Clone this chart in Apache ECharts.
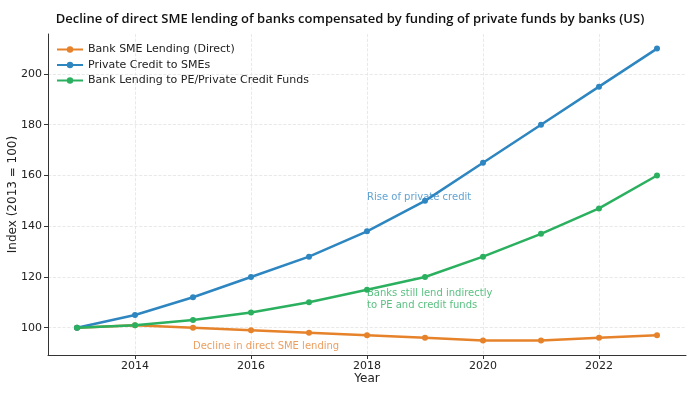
<!DOCTYPE html>
<html><head><meta charset="utf-8">
<script src="https://cdn.jsdelivr.net/npm/echarts@6/dist/echarts.min.js"></script>
<style>html,body{margin:0;padding:0;background:#fff}#c{width:700px;height:393px}</style>
</head><body><div id="c"></div>
<script>
const years = [2013,2014,2015,2016,2017,2018,2019,2020,2021,2022,2023];
const bankSME = [100,101,100,99,98,97,96,95,95,96,97];
const privateCredit = [100,105,112,120,128,138,150,165,180,195,210];
const bankPE = [100,101,103,106,110,115,120,128,137,147,160];
const xTicks = [2014,2016,2018,2020,2022];
const yTicks = [100,120,140,160,180,200];
const annotations = [
  {name:'Rise of private credit', x:2018, y:148.8, color:'#3a8cc6'},
  {name:'Banks still lend indirectly\nto PE and credit funds', x:2018, y:106.6, color:'#2fb062'},
  {name:'Decline in direct SME lending', x:2015, y:90.2, color:'#e6873a'}
];
const FONT = 'DejaVu Sans';
const chart = echarts.init(document.getElementById('c'), null, {renderer:'canvas'});
const pair = arr => years.map((y,i)=>[y,arr[i]]);
const lineSeries = (name, arr, color) => ({
  name, type:'line', data: pair(arr), symbol:'circle', symbolSize:6,
  lineStyle:{width:2.5,color}, itemStyle:{color}, z:3
});
chart.setOption({
  animation:false,
  title:{text:'Decline of direct SME lending of banks compensated by funding of private funds by banks (US)',
    left:'center', top:8, textStyle:{fontFamily:'Open Sans', fontWeight:600, fontSize:13, color:'#111'}},
  legend:{left:51, top:39, orient:'vertical', itemGap:4.5, itemWidth:26, itemHeight:8,
    textStyle:{fontFamily:FONT, fontSize:11, color:'#222'},
    data:['Bank SME Lending (Direct)','Private Credit to SMEs','Bank Lending to PE/Private Credit Funds']},
  grid:{left:48, right:14, top:34, bottom:38, outerBoundsMode:'none', containLabel:false},
  xAxis:{type:'value', min:2012.5, max:2023.5,
    name:'Year', nameLocation:'middle', nameGap:18, nameMoveOverlap:false,
    nameTextStyle:{fontFamily:FONT, fontSize:12, color:'#222'},
    axisLine:{show:true, lineStyle:{color:'#333', width:1}},
    axisTick:{show:true, customValues:xTicks, length:4, lineStyle:{color:'#333'}},
    axisLabel:{customValues:xTicks, formatter:v=>String(v), fontFamily:FONT, fontSize:11, color:'#222', margin:6},
    splitLine:{show:true, lineStyle:{type:'dashed', color:'#e3e3e3', width:0.8}}},
  yAxis:{type:'value', min:89.25, max:215.75,
    name:'Index (2013 = 100)', nameLocation:'middle', nameGap:29, nameMoveOverlap:false,
    nameTextStyle:{fontFamily:FONT, fontSize:12, color:'#222'},
    axisLine:{show:true, lineStyle:{color:'#333', width:1}},
    axisTick:{show:true, customValues:yTicks, length:4, lineStyle:{color:'#333'}},
    axisLabel:{customValues:yTicks, formatter:v=>String(v), fontFamily:FONT, fontSize:11, color:'#222', margin:6},
    splitLine:{show:true, lineStyle:{type:'dashed', color:'#e3e3e3', width:0.8}}},
  series:[
    lineSeries('Bank SME Lending (Direct)', bankSME, '#e6822a'),
    lineSeries('Private Credit to SMEs', privateCredit, '#2e86c1'),
    lineSeries('Bank Lending to PE/Private Credit Funds', bankPE, '#2bb05f'),
    {type:'scatter', symbolSize:0, z:5, silent:true,
     data: annotations.map(a=>({value:[a.x,a.y], label:{show:true, position:[0,0], formatter:a.name,
       color:a.color, fontFamily:FONT, fontSize:10, align:'left', verticalAlign:'bottom', lineHeight:12}}))}
  ]
});
</script></body></html>
